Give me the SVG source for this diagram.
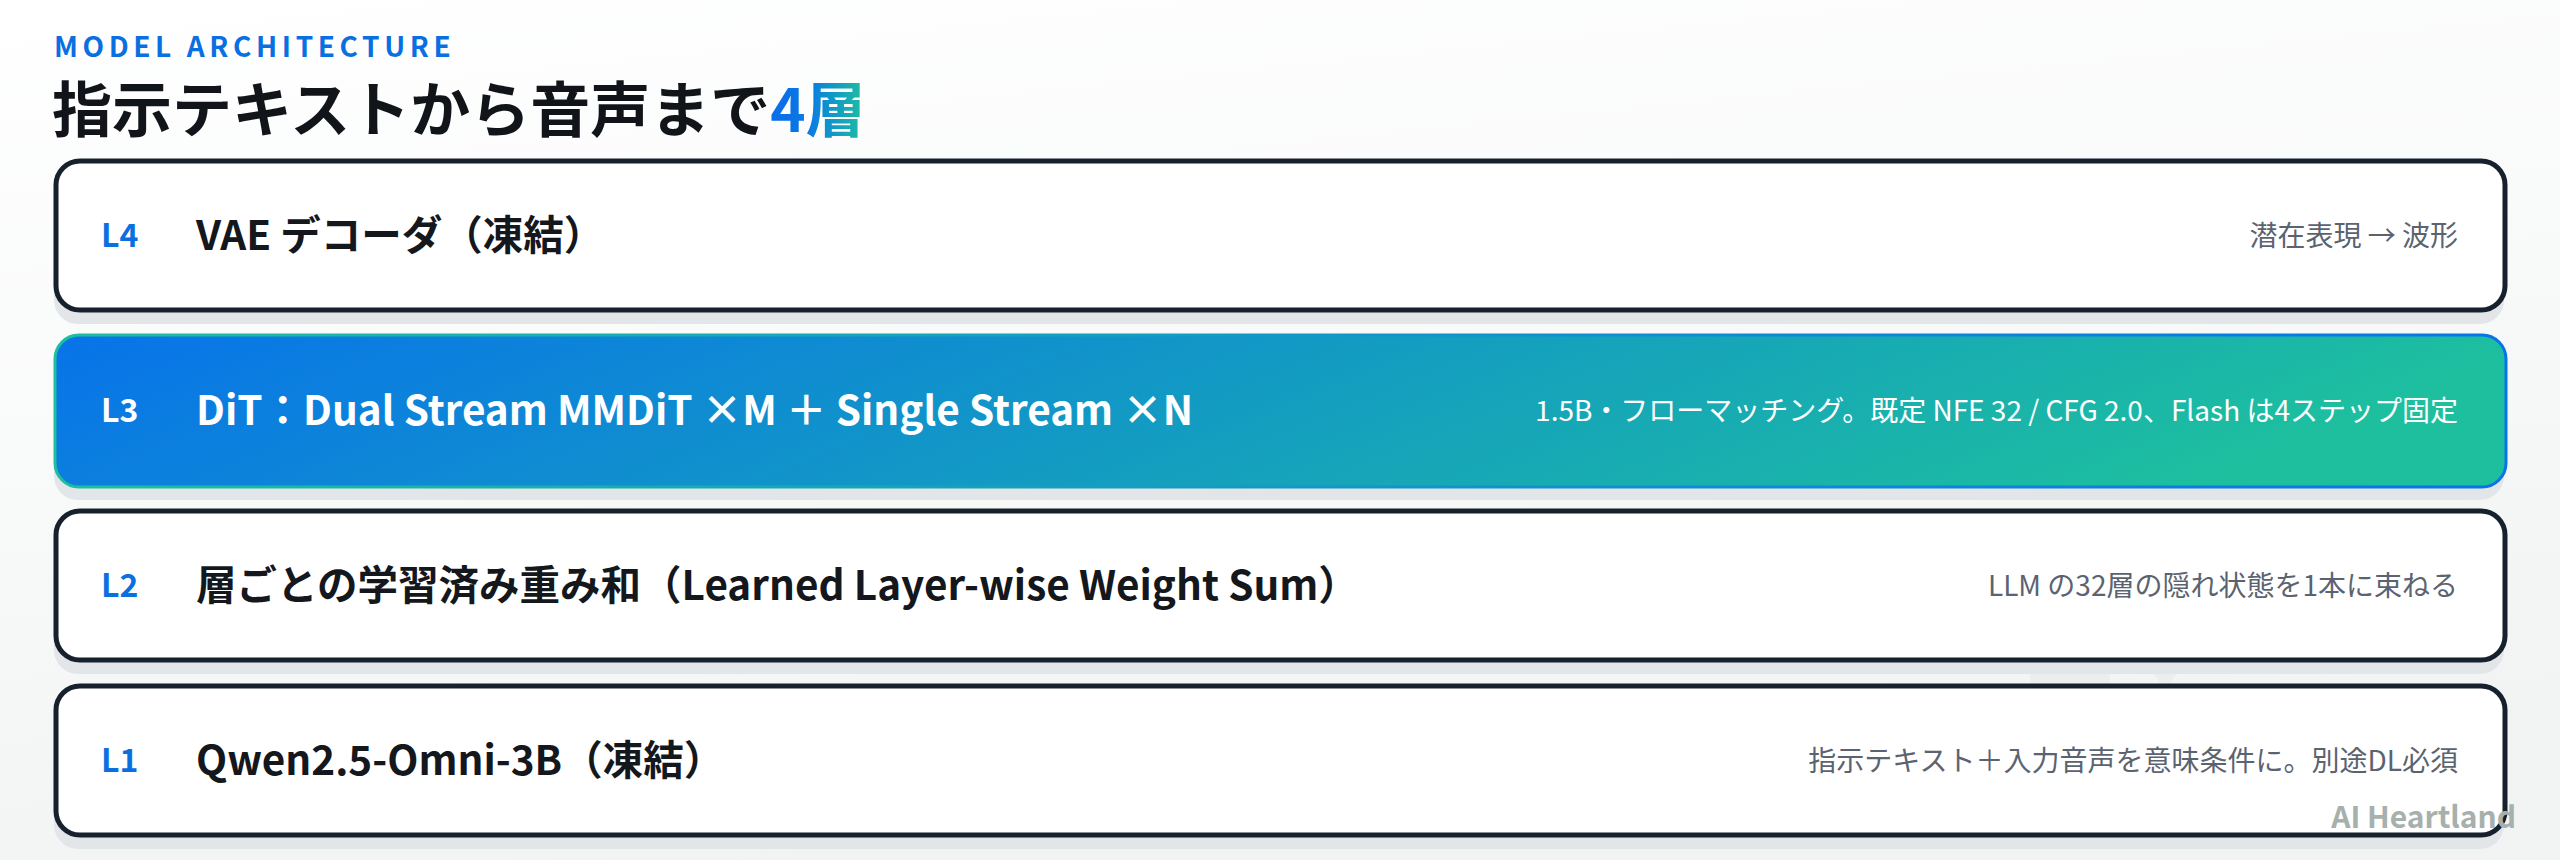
<svg xmlns="http://www.w3.org/2000/svg" width="2560" height="860" viewBox="0 0 2560 860">
  <defs>
    <linearGradient id="bg" x1="0" y1="0" x2="0.3" y2="1">
      <stop offset="0" stop-color="#ffffff"/>
      <stop offset="1" stop-color="#f2f4f4"/>
    </linearGradient>
    <linearGradient id="accent" gradientUnits="userSpaceOnUse" x1="785" y1="0" x2="864" y2="0">
      <stop offset="0" stop-color="#0a6fe8"/>
      <stop offset="0.35" stop-color="#0a7fe0"/>
      <stop offset="1" stop-color="#1dbf9f"/>
    </linearGradient>
    <linearGradient id="l3fill" x1="0" y1="0" x2="1" y2="0.15">
      <stop offset="0" stop-color="#0873ea"/>
      <stop offset="1" stop-color="#1dbf9f"/>
    </linearGradient>
    <linearGradient id="l3stroke" x1="0" y1="0" x2="1" y2="0">
      <stop offset="0" stop-color="#1dbf9f"/>
      <stop offset="1" stop-color="#0873ea"/>
    </linearGradient>
    <style>
      .cjk { font-family: "Noto Sans CJK JP", "Noto Sans", sans-serif; }
      .eyebrow { font-size: 28px; font-weight: 700; fill: #0a6fe0; letter-spacing: 4.6px; }
      .h1 { font-size: 60px; font-weight: 700; fill: #111418; }
      .shadow { fill: #e3e6e8; }
      .box { fill: #ffffff; stroke: #17212e; stroke-width: 5; }
      .lab { font-size: 32px; font-weight: 700; fill: #0a6fe0; }
      .ttl { font-size: 40.5px; font-weight: 700; fill: #14171c; }
      .desc { font-size: 28px; font-weight: 400; fill: #5b6370; text-anchor: end; }
      .w { fill: #ffffff; }
      .wm { font-size: 30px; font-weight: 700; fill: #a6b0ad; text-anchor: end; }
    </style>
  </defs>
  <rect x="0" y="0" width="2560" height="860" fill="url(#bg)"/>
  <path d="M2030 655 L2110 655 L2110 690 L2030 690 Z M2140 655 L2190 655 L2165 690 Z" fill="#eceeee"/>

  <g id="header" class="cjk">
    <text class="eyebrow" x="54" y="57">MODEL ARCHITECTURE</text>
    <text class="h1" x="52" y="132">指示テキストから音声まで<tspan fill="url(#accent)">4層</tspan></text>
  </g>

  <g id="connectors"></g>

  <g id="L4" class="cjk">
    <rect class="shadow" x="54" y="172" width="2450" height="152" rx="24"/>
    <rect class="box" x="56" y="161" width="2449" height="149" rx="24"/>
    <text class="lab" x="101" y="247">L4</text>
    <text class="ttl" x="196" y="250">VAE デコーダ（凍結）</text>
    <text class="desc" x="2458" y="246">潜在表現 → 波形</text>
  </g>

  <g id="L3" class="cjk">
    <rect class="shadow" x="54" y="347" width="2450" height="153" rx="24"/>
    <rect x="55" y="335" width="2451" height="152" rx="24" fill="url(#l3fill)" stroke="url(#l3stroke)" stroke-width="3"/>
    <text class="lab w" x="101" y="422">L3</text>
    <text class="ttl w" x="196" y="425">DiT：Dual Stream MMDiT ×M ＋ Single Stream ×N</text>
    <text class="desc w" x="2458" y="421">1.5B・フローマッチング。既定 NFE 32 / CFG 2.0、Flash は4ステップ固定</text>
  </g>

  <g id="L2" class="cjk">
    <rect class="shadow" x="54" y="522" width="2450" height="152" rx="24"/>
    <rect class="box" x="56" y="511" width="2449" height="149" rx="24"/>
    <text class="lab" x="101" y="597">L2</text>
    <text class="ttl" x="196" y="600">層ごとの学習済み重み和（Learned Layer-wise Weight Sum）</text>
    <text class="desc" x="2458" y="596">LLM の32層の隠れ状態を1本に束ねる</text>
  </g>

  <g id="L1" class="cjk">
    <rect class="shadow" x="54" y="697" width="2450" height="152" rx="24"/>
    <rect class="box" x="56" y="686" width="2449" height="149" rx="24"/>
    <text class="lab" x="101" y="772">L1</text>
    <text class="ttl" x="196" y="775">Qwen2.5-Omni-3B（凍結）</text>
    <text class="desc" x="2458" y="771">指示テキスト＋入力音声を意味条件に。別途DL必須</text>
  </g>

  <g id="watermark" class="cjk">
    <text class="wm" x="2516" y="828">AI Heartland</text>
  </g>
</svg>
